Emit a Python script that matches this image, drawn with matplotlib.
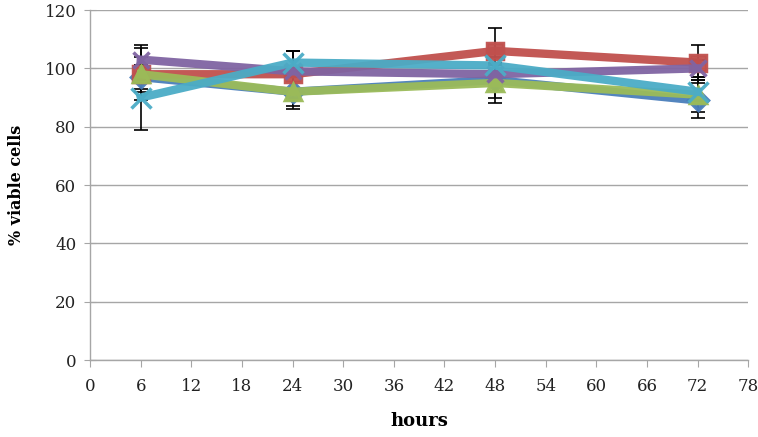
import matplotlib
matplotlib.use("Agg")
import matplotlib.pyplot as plt

hours = [6, 24, 48, 72]

blue_vals = [97, 92, 96, 89]
red_vals = [98, 98, 106, 102]
green_vals = [98, 92, 95, 91]
purple_vals = [103, 99, 98, 100]
cyan_vals = [90, 102, 101, 92]

blue_err = [4, 5, 6, 6]
red_err = [9, 8, 8, 6]
green_err = [6, 6, 7, 6]
purple_err = [5, 7, 3, 3]
cyan_err = [11, 4, 3, 4]

x_ticks = list(range(0, 79, 6))
y_ticks = list(range(0, 121, 20))

series = [
    (blue_vals, blue_err, "#4a7ebb", "D", 10),
    (red_vals, red_err, "#c0504d", "s", 12),
    (green_vals, green_err, "#9bbb59", "^", 12),
    (purple_vals, purple_err, "#8064a2", "x", 12),
    (cyan_vals, cyan_err, "#4bacc6", "x", 14),
]

plt.rcParams["font.family"] = ["DejaVu Serif"]

fig = plt.figure(figsize=(7.58, 4.37), dpi=100)
ax = fig.add_axes([0.119, 0.176, 0.868, 0.801])

# error bars underneath the lines
for vals, err, color, marker, ms in series:
    ax.errorbar(hours, vals, yerr=err, fmt="none", ecolor="black",
                elinewidth=1.2, capsize=5, capthick=1.2, zorder=2)

for i, (vals, err, color, marker, ms) in enumerate(series):
    ax.plot(hours, vals, color=color, linewidth=6, marker=marker,
            markersize=ms, markerfacecolor=color, markeredgecolor=color,
            markeredgewidth=2.5, zorder=3 + i, alpha=0.95)

ax.set_xlim(0, 78)
ax.set_ylim(0, 120)
ax.set_xticks(x_ticks)
ax.set_yticks(y_ticks)
ax.grid(axis="y", color="#a6a6a6", linewidth=1)
ax.set_axisbelow(True)

for s in ["top", "right"]:
    ax.spines[s].set_visible(False)
for s in ["left", "bottom"]:
    ax.spines[s].set_color("#a6a6a6")
    ax.spines[s].set_linewidth(1)

ax.tick_params(axis="y", direction="inout", length=8, color="#a6a6a6",
               labelsize=12, labelcolor="#222222", pad=6)
ax.tick_params(axis="x", direction="out", length=5, color="#a6a6a6",
               labelsize=12, labelcolor="#222222", pad=8)

ax.set_xlabel("hours", fontsize=13, fontweight="bold", labelpad=12)
ax.set_ylabel("% viable cells", fontsize=11.5, fontweight="bold", labelpad=14)

fig.savefig("out.png", dpi=100)
